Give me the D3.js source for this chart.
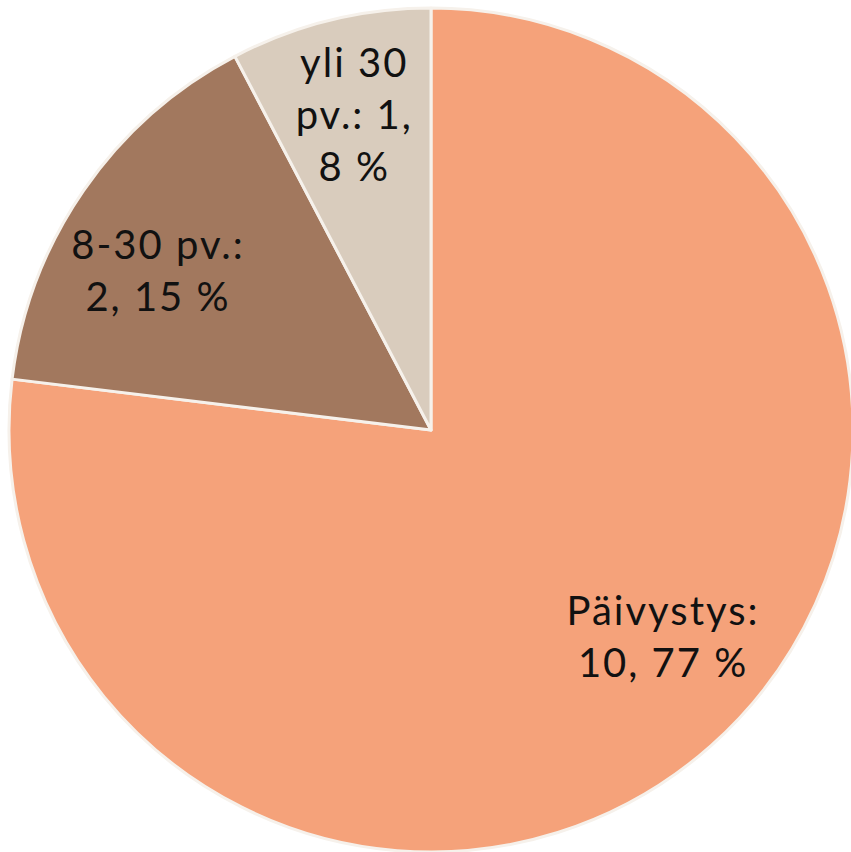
<!DOCTYPE html>
<html>
<head>
<meta charset="utf-8">
<script src="https://cdn.jsdelivr.net/npm/d3@7"></script>
<style>
  body { margin: 0; background: #fff; }
  svg { display: block; }
</style>
</head>
<body>
<svg id="chart" width="851" height="852"></svg>
<script>
const categories = ['Päivystys', '8-30 pv.', 'yli 30 pv.'];
const counts = [10, 2, 1];
const percents = ['77 %', '15 %', '8 %'];
// label lines as shown in the chart
const labelLines = [
  ['Päivystys:', '10, 77 %'],
  ['8-30 pv.:', '2, 15 %'],
  ['yli 30', 'pv.: 1,', '8 %']
];
const colors = ['#F5A27A', '#A2785E', '#D9CCBD'];

const svg = d3.select('#chart');
const cx = 431, cy = 430, R = 422;

const data = categories.map((c, i) => ({ name: c, value: counts[i], lines: labelLines[i], color: colors[i] }));

const pie = d3.pie().value(d => d.value).sort(null);
const arc = d3.arc().innerRadius(0).outerRadius(R);
const labelArc = d3.arc().innerRadius(R * 0.74).outerRadius(R * 0.74);
// small hand nudges so labels sit like the original (excel best-fit placement)
const nudge = [[25, -27], [-16, 18], [-2, -12]];

const g = svg.append('g').attr('transform', `translate(${cx},${cy})`);

const slices = pie(data);

g.selectAll('path')
  .data(slices)
  .join('path')
  .attr('d', arc)
  .attr('fill', d => d.data.color)
  .attr('stroke', '#F6F1EB')
  .attr('stroke-width', 3)
  .attr('stroke-linejoin', 'round');

const lineH = 52;
const labels = g.selectAll('text')
  .data(slices)
  .join('text')
  .attr('transform', (d, i) => {
    const [x, y] = labelArc.centroid(d);
    return `translate(${x + nudge[i][0]},${y + nudge[i][1]})`;
  })
  .attr('text-anchor', 'middle')
  .attr('font-family', 'Lato, "DejaVu Sans", sans-serif')
  .attr('font-size', 40)
  .attr('letter-spacing', 2)
  .attr('fill', '#111');

labels.each(function(d) {
  const n = d.data.lines.length;
  d3.select(this).selectAll('tspan')
    .data(d.data.lines)
    .join('tspan')
    .attr('x', 0)
    .attr('y', (t, i) => (i - (n - 1) / 2) * lineH)
    .attr('dy', '0.35em')
    .text(t => t);
});
</script>
</body>
</html>
